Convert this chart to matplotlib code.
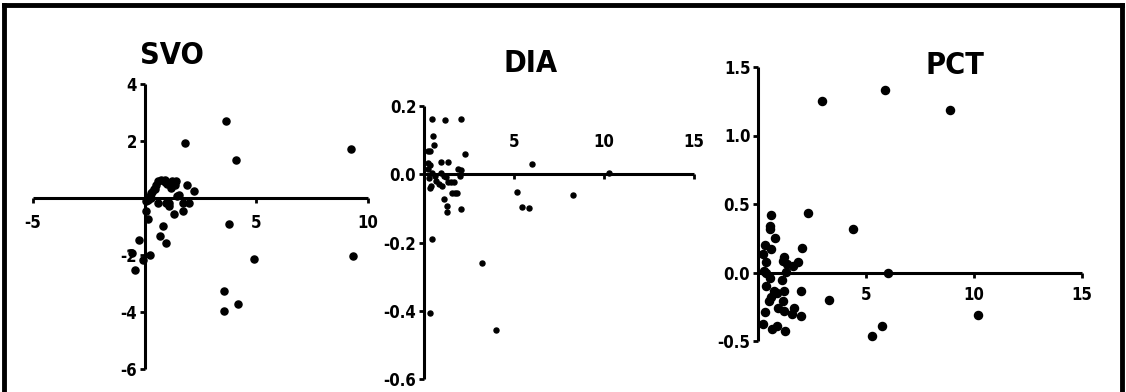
import matplotlib
matplotlib.use('Agg')
import matplotlib.pyplot as plt
from matplotlib.lines import Line2D

plt.rcParams['font.family'] = ['DejaVu Sans']
plt.rcParams['font.stretch'] = 'condensed'
plt.rcParams['font.weight'] = 'bold'
plt.rcParams['axes.unicode_minus'] = False

# SVO
svo_x = [3.65, 1.8, 4.07, 9.25, 9.35, 3.77, 4.89, 3.57, 3.54, 4.2,
         0.6, 0.75, 0.93, 1.23, 1.42, 1.35, 1.2, 1.91, 2.21, 0.52, 0.42, 0.3, 0.22, 0.15, 0.07,
         0.6, 0.94, 1.09, 1.32, 1.46, 1.72, 1.97, 1.73, 0.07, 0.15, 0.82, 0.67, 0.97,
         -0.27, -0.57, 0.22, -0.07, -0.45, 0.35, 0.45, 1.1, 0.28, 0.9, 1.55, 0.98]
svo_y = [2.71, 1.93, 1.32, 1.72, -2.05, -0.92, -2.13, -3.26, -3.95, -3.72,
         0.61, 0.64, 0.62, 0.61, 0.58, 0.47, 0.35, 0.44, 0.26, 0.44, 0.33, 0.18, 0.06, -0.06, -0.12,
         -0.18, -0.18, -0.29, -0.56, 0.06, -0.18, -0.18, -0.44, -0.47, -0.73, -1.0, -1.35, -1.58,
         -1.46, -1.93, -1.99, -2.16, -2.51, 0.22, 0.32, -0.18, 0.0, 0.55, 0.12, 0.5]

# DIA
dia_x = [0.44, 1.15, 2.07, 0.5, 0.56, 0.31, 0.22, 2.3, 0.22, 0.31, 0.93, 1.33, 1.89, 2.07,
         0.22, 0.44, 0.59, 0.96, 1.11, 1.24, 0.26, 0.69, 0.81, 1.0, 1.33, 1.48, 1.67, 0.31,
         0.41, 1.56, 1.7, 1.81, 1.11, 1.3, 1.3, 2.07, 2.0,
         6.0, 5.16, 5.44, 5.86, 8.26, 10.26, 0.42, 0.33, 3.24, 3.99]
dia_y = [0.161, 0.158, 0.161, 0.112, 0.086, 0.068, 0.068, 0.06, 0.034, 0.027, 0.037, 0.037, 0.015, 0.012,
         0.015, 0.005, -0.005, 0.005, -0.005, -0.008, -0.012, -0.02, -0.03, -0.034, -0.024, -0.024, -0.024, -0.039,
         -0.034, -0.054, -0.054, -0.054, -0.073, -0.093, -0.112, -0.103, -0.005,
         0.03, -0.051, -0.096, -0.099, -0.06, 0.005, -0.19, -0.408, -0.261, -0.455]

# PCT
pct_x = [2.94, 5.87, 8.9, 2.32, 4.39, 6.04, 3.29, 10.17, 5.26, 5.73,
         0.59, 0.54, 0.56, 0.8, 0.32, 0.59, 0.25, 0.35, 0.28, 0.35, 2.05, 1.2, 1.17, 1.36, 1.64,
         1.87, 1.28, 0.56, 1.1, 0.35, 0.74, 0.9, 0.59, 1.2, 1.98, 0.51, 1.17, 0.94, 1.2, 1.59,
         1.67, 1.98, 0.32, 0.25, 0.66, 0.9, 1.23]
pct_y = [1.251, 1.329, 1.183, 0.434, 0.315, -0.007, -0.202, -0.31, -0.463, -0.39,
         0.42, 0.34, 0.32, 0.255, 0.2, 0.17, 0.134, 0.073, 0.012, 0.0, 0.178, 0.11, 0.085, 0.06, 0.049,
         0.08, 0.007, -0.04, -0.054, -0.097, -0.134, -0.146, -0.18, -0.134, -0.134, -0.207, -0.207, -0.26, -0.28, -0.3,
         -0.26, -0.32, -0.29, -0.377, -0.414, -0.394, -0.426]

W, H = 1126, 392
fig = plt.figure(figsize=(W / 100, H / 100), dpi=100)


def box(l, t, r, b):
    return [l / W, 1 - b / H, (r - l) / W, (b - t) / H]


def style(ax, xlim, ylim, xticks, yticks, yfmt, labeltop=False, xpad=4):
    ax.set_xlim(xlim)
    ax.set_ylim(ylim)
    ax.spines['left'].set_position(('data', 0))
    ax.spines['bottom'].set_position(('data', 0))
    ax.spines['top'].set_position(('data', 0))
    ax.spines['right'].set_visible(False)
    ax.spines['top'].set_visible(False)
    for s in ['left', 'bottom']:
        ax.spines[s].set_linewidth(2.2)
        ax.spines[s].set_capstyle('butt')
    ax.set_xticks(xticks)
    ax.set_xticklabels([str(v) for v in xticks])
    ax.set_yticks(yticks)
    ax.set_yticklabels([yfmt % v for v in yticks])
    ax.tick_params(direction='out', width=2, length=3.5, labelsize=12, pad=2)
    ax.tick_params(axis='x', pad=xpad)
    if labeltop:
        ax.tick_params(axis='x', labelbottom=False, labeltop=True, top=False, bottom=True)
    ax.patch.set_visible(False)


ax1 = fig.add_axes(box(33, 84, 368, 369))
ax1.scatter(svo_x, svo_y, s=26, color='black', clip_on=False, zorder=3)
style(ax1, (-5, 10), (-6, 4), [-5, 5, 10], [-6, -4, -2, 2, 4], '%d', xpad=8)

ax2 = fig.add_axes(box(424, 106, 694, 379))
ax2.scatter(dia_x, dia_y, s=13, color='black', clip_on=False, zorder=3)
style(ax2, (0, 15), (-0.6, 0.2), [5, 10, 15], [-0.6, -0.4, -0.2, 0.0, 0.2], '%.1f', labeltop=True, xpad=13)

ax3 = fig.add_axes(box(758, 67, 1082, 341))
ax3.scatter(pct_x, pct_y, s=34, color='black', clip_on=False, zorder=3)
style(ax3, (0, 15), (-0.5, 1.5), [5, 10, 15], [-0.5, 0.0, 0.5, 1.0, 1.5], '%.1f', xpad=6)

fig.text(172 / W, 1 - 55 / H, 'SVO', fontsize=22, ha='center', va='center')
fig.text(531 / W, 1 - 64 / H, 'DIA', fontsize=22, ha='center', va='center')
fig.text(955 / W, 1 - 65 / H, 'PCT', fontsize=22, ha='center', va='center')

# frame
for xs, ys in [([4, 4], [392, 5]), ([4, 1122], [5, 5]), ([1122, 1122], [5, 392])]:
    fig.add_artist(Line2D([x / W for x in xs], [1 - y / H for y in ys],
                          transform=fig.transFigure, color='black', linewidth=3.5))

plt.savefig('out.png', dpi=100)
